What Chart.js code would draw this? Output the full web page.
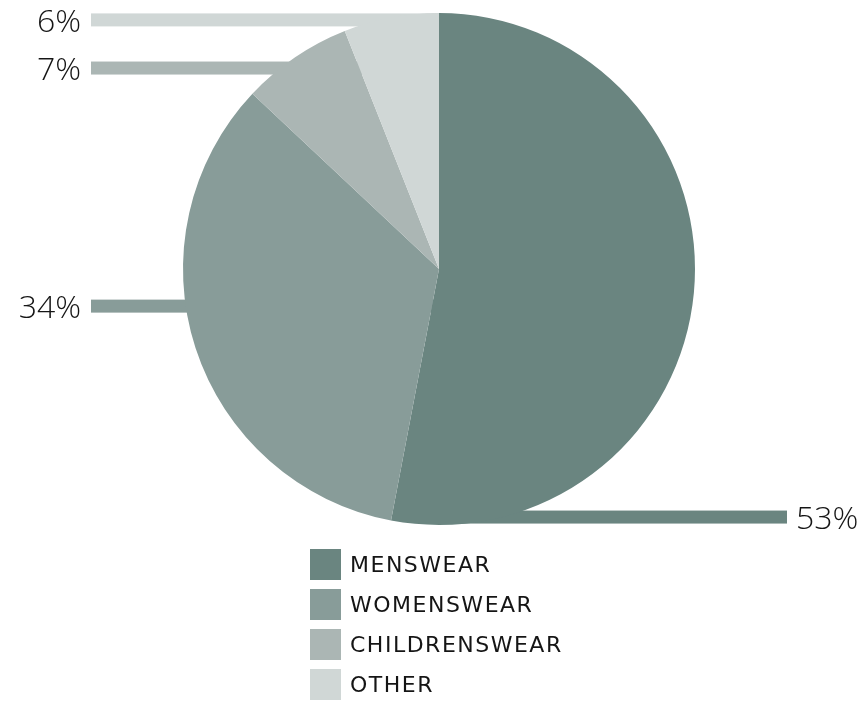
<!DOCTYPE html>
<html>
<head>
<meta charset="utf-8">
<title>Sales by category</title>
<script src="https://cdn.jsdelivr.net/npm/chart.js@4.4.0/dist/chart.umd.min.js"></script>
<style>
  html, body { margin: 0; padding: 0; background: #fff; }
  #wrap { position: relative; width: 868px; height: 702px; }
</style>
</head>
<body>
<div id="wrap"><canvas id="myChart"></canvas></div>
<script>
// categories and their share of sales, clockwise from 12 o'clock
var categories = ['MENSWEAR', 'WOMENSWEAR', 'CHILDRENSWEAR', 'OTHER'];
var shares = [53, 34, 7, 6];
var sliceColors = ['#6a8580', '#889c99', '#abb6b4', '#d0d7d6'];

// where each value label sits: side of the pie and height relative to the radius
var leaderSide = ['right', 'left', 'left', 'left'];
var leaderOffset = [0.969, 0.145, -0.785, -0.973];

var leaderPlugin = {
  id: 'leaders',
  beforeDatasetsDraw: function(chart) {
    var ctx = chart.ctx;
    var arcs = chart.getDatasetMeta(0).data;
    ctx.save();
    for (var i = 0; i < arcs.length; i++) {
      var a = arcs[i];
      var y = a.y + leaderOffset[i] * a.outerRadius;
      ctx.fillStyle = sliceColors[i];
      if (leaderSide[i] == 'left') {
        ctx.fillRect(91, y - 6.5, a.x - 91, 13);
      } else {
        ctx.fillRect(a.x, y - 6.5, 787 - a.x, 13);
      }
    }
    ctx.restore();
  },
  afterDraw: function(chart) {
    var ctx = chart.ctx;
    var arcs = chart.getDatasetMeta(0).data;
    ctx.save();
    ctx.fillStyle = '#151515';
    ctx.font = '300 32px "Open Sans", sans-serif';
    ctx.textBaseline = 'middle';
    for (var i = 0; i < arcs.length; i++) {
      var a = arcs[i];
      var y = a.y + leaderOffset[i] * a.outerRadius + 3;
      var txt = shares[i] + '%';
      if (leaderSide[i] == 'left') {
        ctx.textAlign = 'right';
        ctx.fillText(txt, 81, y);
      } else {
        ctx.textAlign = 'left';
        ctx.fillText(txt, 796, y);
      }
    }

    // legend below the pie
    ctx.font = '22px "DejaVu Sans", sans-serif';
    ctx.letterSpacing = '1.5px';
    ctx.textAlign = 'left';
    for (var j = 0; j < categories.length; j++) {
      var top = 549 + j * 40;
      ctx.fillStyle = sliceColors[j];
      ctx.fillRect(310, top, 31, 31);
      ctx.fillStyle = '#151515';
      ctx.fillText(categories[j], 350, top + 17);
    }
    ctx.restore();
  }
};

var ctx = document.getElementById('myChart').getContext('2d');
var myChart = new Chart(ctx, {
  type: 'pie',
  data: {
    labels: categories,
    datasets: [{
      data: shares,
      backgroundColor: sliceColors,
      borderWidth: 0
    }]
  },
  options: {
    responsive: true,
    maintainAspectRatio: false,
    animation: false,
    layout: {
      padding: { left: 183, right: 173, top: 13, bottom: 177 }
    },
    plugins: {
      legend: { display: false },
      tooltip: { enabled: false }
    }
  },
  plugins: [leaderPlugin]
});
</script>
</body>
</html>
